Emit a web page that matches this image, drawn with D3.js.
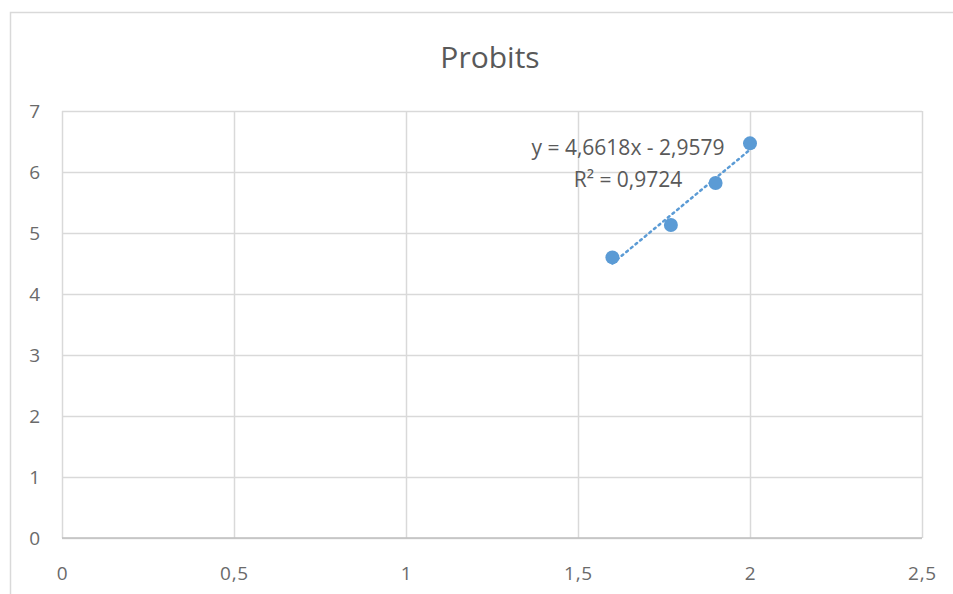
<!DOCTYPE html>
<html><head><meta charset="utf-8">
<script src="https://cdn.jsdelivr.net/npm/d3@7"></script>
<style>body{margin:0;background:#fff;} text{font-family:"Open Sans",sans-serif;}</style>
</head><body>
<svg id="c" width="953" height="594"></svg>
<script>
const title = "Probits";
const xVals = [1.6, 1.77, 1.9, 2.0];
const yVals = [4.6, 5.13, 5.82, 6.47];
const xTicks = [0, 0.5, 1, 1.5, 2, 2.5];
const yTicks = [0, 1, 2, 3, 4, 5, 6, 7];
const slope = 4.6618, intercept = -2.9579;
const eqLines = ["y = 4,6618x - 2,9579", "R² = 0,9724"];

const svg = d3.select("#c");
const m = {l:62, r:922, t:111, b:538};
const x = d3.scaleLinear().domain([0,2.5]).range([m.l, m.r]);
const y = d3.scaleLinear().domain([0,7]).range([m.b, m.t]);
const fmt = d => String(d).replace(".", ",");

// outer chart border
svg.append("rect").attr("x",10.5).attr("y",12.5).attr("width",960).attr("height",600)
  .attr("fill","none").attr("stroke","#d9d9d9").attr("stroke-width",1.5);

svg.append("text").attr("x",490).attr("y",68).attr("text-anchor","middle")
  .attr("font-size",30).attr("fill","#595959").text(title);

// gridlines
const gx = svg.append("g").attr("transform",`translate(0,${m.b})`)
  .call(d3.axisBottom(x).tickValues(xTicks).tickSize(-(m.b-m.t)).tickFormat(fmt));
const gy = svg.append("g").attr("transform",`translate(${m.l},0)`)
  .call(d3.axisLeft(y).tickValues(yTicks).tickSize(-(m.r-m.l)).tickFormat(fmt));
[gx,gy].forEach(g=>{
  g.attr("font-size",19).attr("font-family","Open Sans, sans-serif");
  g.select(".domain").remove();
  g.selectAll("line").attr("stroke","#d9d9d9").attr("stroke-width",1.5);
  g.selectAll("text").attr("fill","#6a6a6a").attr("letter-spacing",0.8);
});
gx.selectAll("text").attr("dy",0).attr("y",42);
gy.selectAll("text").attr("text-anchor","middle").attr("x",-27).attr("dy","0.35em");
// x axis baseline
svg.append("line").attr("x1",m.l).attr("x2",m.r).attr("y1",m.b).attr("y2",m.b)
  .attr("stroke","#bfbfbf").attr("stroke-width",1.5);

// trendline
const x0 = d3.min(xVals), x1 = d3.max(xVals);
svg.append("line").attr("x1",x(x0)).attr("y1",y(slope*x0+intercept))
  .attr("x2",x(x1)).attr("y2",y(slope*x1+intercept))
  .attr("stroke","#5b9bd5").attr("stroke-width",2.5).attr("stroke-dasharray","2,4").attr("stroke-linecap","round");

// points
svg.selectAll("circle.p").data(xVals).enter().append("circle")
  .attr("cx",(d)=>x(d)).attr("cy",(d,i)=>y(yVals[i])).attr("r",7).attr("fill","#5b9bd5");

// equation
svg.selectAll("text.eq").data(eqLines).enter().append("text")
  .attr("x",628).attr("y",(d,i)=>155+i*32).attr("text-anchor","middle")
  .attr("font-size",21).attr("fill","#595959").text(d=>d);
</script>
</body></html>
